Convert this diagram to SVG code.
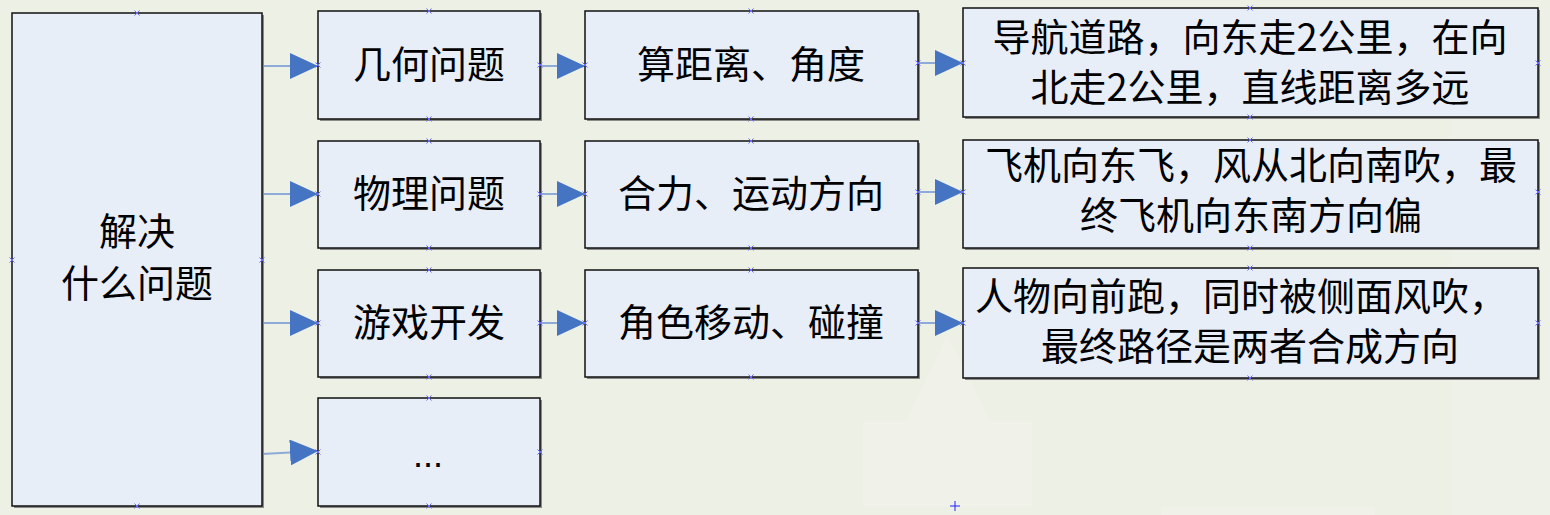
<svg xmlns="http://www.w3.org/2000/svg" width="1550" height="515" viewBox="0 0 1550 515">
<style>
.bx{fill:#e8eef8;stroke:#111;stroke-width:1.5}
.sh{fill:#8a8a8a}
.t{font-family:"Noto Sans CJK SC","Noto Sans CJK JP",sans-serif;font-size:38px;fill:#000;text-anchor:middle}
.dots{font-family:"Liberation Sans",sans-serif;font-size:36px;fill:#000;text-anchor:middle}
.ln{stroke:#8eaad8;stroke-width:2;fill:none;marker-end:url(#ah)}
.cp{stroke:#6a6aff;stroke-width:1;fill:none}
</style>
<defs>
<marker id="ah" markerUnits="userSpaceOnUse" markerWidth="28" markerHeight="26" refX="28" refY="13" orient="auto">
<path d="M0,0 L28,13 L0,26 Z" fill="#4575c2"/>
</marker>
<path id="x" d="M-2.5,-2.5 L2.5,2.5 M-2.5,2.5 L2.5,-2.5" class="cp"/>
</defs>
<rect width="1550" height="515" fill="#edf0e5"/>
<g id="watermark" fill="#f0f2e9">
<polygon points="947,335 990,421 906,421"/>
<rect x="863" y="421" width="169" height="86"/>
<rect x="1161" y="507" width="214" height="8"/>
<rect x="1451" y="120" width="99" height="395" fill="#eef1e7"/>
</g>
<g id="connectors">
<line class="ln" x1="262" y1="66" x2="318" y2="66"/>
<line class="ln" x1="262" y1="194" x2="318" y2="194"/>
<line class="ln" x1="262" y1="323" x2="318" y2="323"/>
<line class="ln" x1="262" y1="454" x2="318" y2="451"/>
<line class="ln" x1="540" y1="66" x2="585" y2="66"/>
<line class="ln" x1="540" y1="194" x2="585" y2="194"/>
<line class="ln" x1="540" y1="323" x2="585" y2="323"/>
<line class="ln" x1="918" y1="63" x2="963" y2="63"/>
<line class="ln" x1="918" y1="192" x2="963" y2="192"/>
<line class="ln" x1="918" y1="323" x2="963" y2="323"/>
</g>
<g id="root">
<rect class="sh" x="14" y="15" width="250" height="493"/>
<rect class="bx" x="12" y="13" width="250" height="493"/>
<text class="t" x="137" y="245">解决</text>
<text class="t" x="137" y="297">什么问题</text>
</g>
<g id="geo">
<rect class="sh" x="320" y="13" width="222" height="108"/>
<rect class="bx" x="318" y="11" width="222" height="108"/>
<text class="t" x="429" y="78">几何问题</text>
</g>
<g id="phys">
<rect class="sh" x="320" y="143" width="222" height="107"/>
<rect class="bx" x="318" y="141" width="222" height="107"/>
<text class="t" x="429" y="207">物理问题</text>
</g>
<g id="game">
<rect class="sh" x="320" y="272" width="222" height="107"/>
<rect class="bx" x="318" y="270" width="222" height="107"/>
<text class="t" x="429" y="336">游戏开发</text>
</g>
<g id="more">
<rect class="sh" x="320" y="400" width="222" height="108"/>
<rect class="bx" x="318" y="398" width="222" height="108"/>
<text class="dots" x="428" y="467">...</text>
</g>
<g id="geo2">
<rect class="sh" x="587" y="13" width="333" height="108"/>
<rect class="bx" x="585" y="11" width="333" height="108"/>
<text class="t" x="751" y="78">算距离、角度</text>
</g>
<g id="phys2">
<rect class="sh" x="587" y="143" width="333" height="107"/>
<rect class="bx" x="585" y="141" width="333" height="107"/>
<text class="t" x="751" y="207">合力、运动方向</text>
</g>
<g id="game2">
<rect class="sh" x="587" y="272" width="333" height="107"/>
<rect class="bx" x="585" y="270" width="333" height="107"/>
<text class="t" x="751" y="336">角色移动、碰撞</text>
</g>
<g id="geo3">
<rect class="sh" x="965" y="10" width="575" height="109"/>
<rect class="bx" x="963" y="8" width="575" height="109"/>
<text class="t" x="1250" y="51">导航道路，向东走2公里，在向</text>
<text class="t" x="1250" y="101">北走2公里，直线距离多远</text>
</g>
<g id="phys3">
<rect class="sh" x="965" y="142" width="575" height="108"/>
<rect class="bx" x="963" y="140" width="575" height="108"/>
<text class="t" x="1251" y="179">飞机向东飞，风从北向南吹，最</text>
<text class="t" x="1251" y="229">终飞机向东南方向偏</text>
</g>
<g id="game3">
<rect class="sh" x="965" y="270" width="575" height="110"/>
<rect class="bx" x="963" y="268" width="575" height="110"/>
<text class="t" x="1241" y="310">人物向前跑，同时被侧面风吹，</text>
<text class="t" x="1250" y="360">最终路径是两者合成方向</text>
</g>
<g id="points">
<use href="#x" x="137" y="13"/><use href="#x" x="137" y="506"/><use href="#x" x="12" y="260"/><use href="#x" x="262" y="260"/>
<use href="#x" x="429" y="11"/><use href="#x" x="429" y="119"/><use href="#x" x="318" y="65"/><use href="#x" x="540" y="65"/>
<use href="#x" x="429" y="141"/><use href="#x" x="429" y="248"/><use href="#x" x="318" y="194"/><use href="#x" x="540" y="194"/>
<use href="#x" x="429" y="270"/><use href="#x" x="429" y="377"/><use href="#x" x="318" y="323"/><use href="#x" x="540" y="323"/>
<use href="#x" x="429" y="398"/><use href="#x" x="429" y="506"/><use href="#x" x="318" y="452"/><use href="#x" x="540" y="452"/>
<use href="#x" x="751" y="11"/><use href="#x" x="751" y="119"/><use href="#x" x="585" y="65"/><use href="#x" x="918" y="63"/>
<use href="#x" x="751" y="141"/><use href="#x" x="751" y="248"/><use href="#x" x="585" y="194"/><use href="#x" x="918" y="192"/>
<use href="#x" x="751" y="270"/><use href="#x" x="751" y="377"/><use href="#x" x="585" y="323"/><use href="#x" x="918" y="323"/>
<use href="#x" x="1250" y="8"/><use href="#x" x="1250" y="117"/><use href="#x" x="963" y="63"/><use href="#x" x="1538" y="63"/>
<use href="#x" x="1250" y="140"/><use href="#x" x="1250" y="248"/><use href="#x" x="963" y="192"/><use href="#x" x="1538" y="192"/>
<use href="#x" x="1250" y="268"/><use href="#x" x="1250" y="378"/><use href="#x" x="963" y="323"/><use href="#x" x="1538" y="323"/>
<path d="M955,501 V511 M950,506 H960" stroke="#2020ff" stroke-width="1"/>
</g>
</svg>
